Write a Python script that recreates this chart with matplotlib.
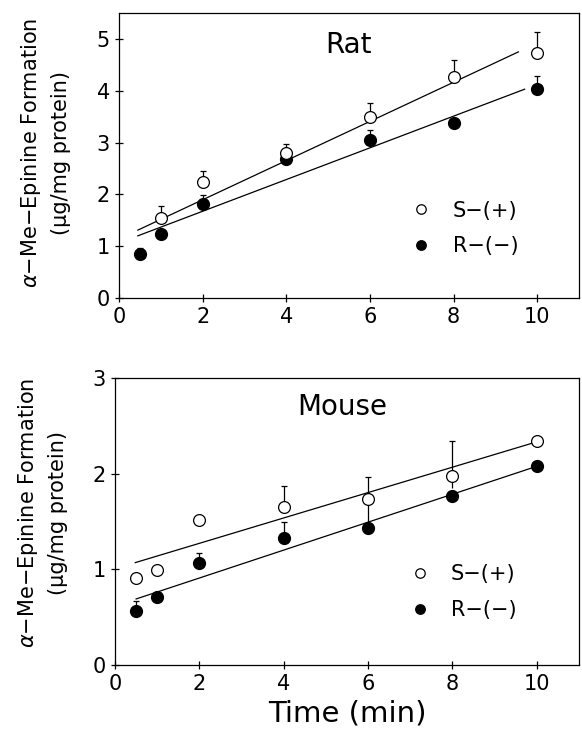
import matplotlib
matplotlib.use('Agg')
import matplotlib.pyplot as plt
import numpy as np

plt.rcParams['font.family'] = ['DejaVu Sans']
plt.rcParams['mathtext.fontset'] = 'dejavusans'

# Rat data
rat_s_x = [1, 2, 4, 6, 8, 10]
rat_s_y = [1.55, 2.23, 2.79, 3.49, 4.26, 4.73]
rat_s_err = [0.23, 0.23, 0.19, 0.27, 0.33, 0.40]
rat_r_x = [0.5, 1, 2, 4, 6, 8, 10]
rat_r_y = [0.85, 1.24, 1.82, 2.69, 3.04, 3.37, 4.03]
rat_r_err = [0.12, 0.0, 0.16, 0.10, 0.20, 0.0, 0.25]
rat_s_fit_x = [0.45, 9.55]
rat_s_fit_y = [1.31, 4.75]
rat_r_fit_x = [0.45, 9.7]
rat_r_fit_y = [1.20, 4.03]

# Mouse data
mouse_s_x = [0.5, 1, 2, 4, 6, 8, 10]
mouse_s_y = [0.91, 0.99, 1.52, 1.65, 1.73, 1.98, 2.34]
mouse_s_err = [0.0, 0.0, 0.0, 0.22, 0.24, 0.36, 0.0]
mouse_s_err_lo = [0.0, 0.0, 0.0, 0.0, 0.25, 0.13, 0.0]
mouse_r_x = [0.5, 1, 2, 4, 6, 8, 10]
mouse_r_y = [0.56, 0.71, 1.07, 1.33, 1.43, 1.77, 2.08]
mouse_r_err = [0.11, 0.0, 0.10, 0.16, 0.0, 0.0, 0.0]
mouse_s_fit_x = [0.48, 9.9]
mouse_s_fit_y = [1.07, 2.32]
mouse_r_fit_x = [0.5, 9.95]
mouse_r_fit_y = [0.69, 2.07]

xticks = [0, 2, 4, 6, 8, 10]
ylabel = '$\\alpha$\u2212Me\u2212Epinine Formation\n(\u03bcg/mg protein)'

fig = plt.figure(figsize=(5.82, 7.36), dpi=100)
ax1 = fig.add_axes([0.2045, 0.5951, 0.7904, 0.3872])
ax2 = fig.add_axes([0.1976, 0.0965, 0.7973, 0.3899])


def errs(ax, x, y, up, lo=None):
    x = np.array(x)
    y = np.array(y)
    up = np.array(up)
    m = up > 0
    ax.vlines(x[m], y[m], y[m] + up[m], color='black', lw=0.9, zorder=2)
    ax.plot(x[m], y[m] + up[m], ls='none', marker='_', ms=5, mew=0.9,
            color='black', zorder=2)
    if lo is not None:
        lo = np.array(lo)
        k = lo > 0
        ax.vlines(x[k], y[k] - lo[k], y[k], color='black', lw=0.9, zorder=2)


def panel(ax, sx, sy, sfx, sfy, rx, ry, rfx, rfy, title, tpos, ymax, yticks,
          legpos):
    ax.plot(sfx, sfy, color='black', lw=0.9, zorder=1)
    ax.plot(rfx, rfy, color='black', lw=0.9, zorder=1)
    ax.plot(rx, ry, ls='none', marker='o', ms=8.5, mfc='black', mec='black',
            zorder=3, label='R\u2212(\u2212)')
    ax.plot(sx, sy, ls='none', marker='o', ms=8.5, mfc='white', mec='black',
            mew=0.9, zorder=3, label='S\u2212(+)')
    ax.set_xlim(0, 11)
    ax.set_ylim(0, ymax)
    ax.set_xticks(xticks)
    ax.set_yticks(yticks)
    ax.tick_params(direction='inout', length=6, width=0.9, labelsize=15)
    for s in ax.spines.values():
        s.set_linewidth(0.9)
    ax.text(tpos[0], tpos[1], title, transform=ax.transAxes, fontsize=20,
            ha='left', va='baseline')
    h, l = ax.get_legend_handles_labels()
    ax.legend([h[1], h[0]], [l[1], l[0]], loc='upper left',
              bbox_to_anchor=legpos, frameon=False, fontsize=15,
              handlelength=1.0, handletextpad=1.0, labelspacing=0.75,
              borderpad=0, markerscale=0.8)
    ax.set_ylabel(ylabel, fontsize=15, linespacing=1.5)


panel(ax1, rat_s_x, rat_s_y, rat_s_fit_x, rat_s_fit_y,
      rat_r_x, rat_r_y, rat_r_fit_x, rat_r_fit_y,
      'Rat', (0.448, 0.86), 5.5, [0, 1, 2, 3, 4, 5], (0.612, 0.378))
errs(ax1, rat_s_x, rat_s_y, rat_s_err)
errs(ax1, rat_r_x, rat_r_y, rat_r_err)
ax1.yaxis.set_label_coords(-0.105, 0.51)

panel(ax2, mouse_s_x, mouse_s_y, mouse_s_fit_x, mouse_s_fit_y,
      mouse_r_x, mouse_r_y, mouse_r_fit_x, mouse_r_fit_y,
      'Mouse', (0.392, 0.871), 3, [0, 1, 2, 3], (0.612, 0.387))
errs(ax2, mouse_s_x, mouse_s_y, mouse_s_err, mouse_s_err_lo)
errs(ax2, mouse_r_x, mouse_r_y, mouse_r_err)
ax2.yaxis.set_label_coords(-0.101, 0.53)
ax2.set_xlabel('Time (min)', fontsize=21, labelpad=4)

fig.savefig('out.png', dpi=100)
